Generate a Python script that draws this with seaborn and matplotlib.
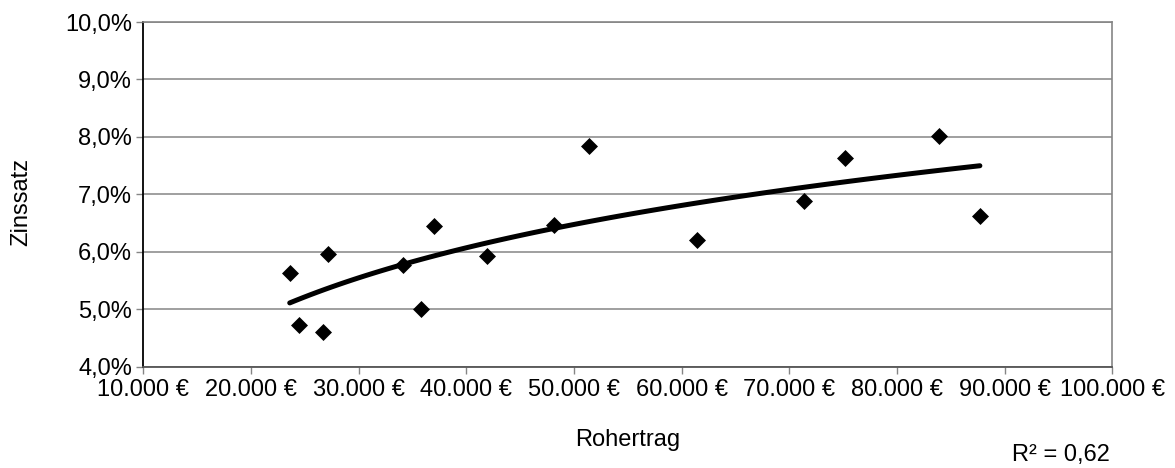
import matplotlib
matplotlib.use("Agg")
import matplotlib.pyplot as plt
import matplotlib.ticker as mticker
import seaborn as sns
import pandas as pd
import numpy as np

# data
rohertrag = [23600, 24500, 26700, 27200, 34100, 35800, 37000, 41900,
             48100, 51400, 61400, 71400, 75200, 83900, 87700]
zinssatz = [5.63, 4.73, 4.60, 5.97, 5.77, 5.01, 6.45, 5.93,
            6.47, 7.84, 6.21, 6.88, 7.63, 8.01, 6.63]
x_label = "Rohertrag"
y_label = "Zinssatz"
r2_text = "R² = 0,62"

df = pd.DataFrame({"Rohertrag": rohertrag, "Zinssatz": zinssatz})

sns.set_theme(style="white")
plt.rcParams['font.family'] = ['Liberation Sans', 'DejaVu Sans']
FS = 17

fig = plt.figure(figsize=(11.75, 4.68), dpi=100)
ax = fig.add_axes([143.3 / 1175, 1 - 366.7 / 468, (1112.3 - 143.3) / 1175, (366.7 - 22) / 468])

sns.regplot(data=df, x="Rohertrag", y="Zinssatz", logx=True, ci=None, scatter=False,
            line_kws=dict(color="black", lw=3.6, solid_capstyle="round"), ax=ax)
sns.scatterplot(data=df, x="Rohertrag", y="Zinssatz", marker="D", s=75, color="black",
                edgecolor="black", linewidth=0, ax=ax, zorder=4)

ax.set_xlim(10000, 100000)
ax.set_ylim(4, 10)
ax.xaxis.set_major_locator(mticker.MultipleLocator(10000))
ax.yaxis.set_major_locator(mticker.MultipleLocator(1))
ax.xaxis.set_major_formatter(mticker.FuncFormatter(lambda v, p: f"{int(round(v)):,}".replace(",", ".") + " €"))
ax.yaxis.set_major_formatter(mticker.FuncFormatter(lambda v, p: f"{v:.1f}".replace(".", ",") + "%"))

ax.grid(axis="y", color="#858585", lw=1.1)
ax.grid(axis="x", visible=False)
ax.set_axisbelow(True)

for side in ("top", "right"):
    ax.spines[side].set_color("#858585")
    ax.spines[side].set_linewidth(1.2)
ax.spines["left"].set_color("black")
ax.spines["left"].set_linewidth(1.3)
ax.spines["bottom"].set_color("#555555")
ax.spines["bottom"].set_linewidth(1.3)

ax.tick_params(axis="both", which="major", direction="out", length=5, width=1,
               color="#858585", labelsize=FS, labelcolor="black",
               bottom=True, left=True)
ax.tick_params(axis="x", pad=4)
ax.tick_params(axis="y", pad=3)

ax.set_xlabel(x_label, fontsize=FS, color="black", va="center")
ax.set_ylabel(y_label, fontsize=FS, color="black", va="center")
ax.xaxis.set_label_coords(0.5, (366.7 - 440) / 344.7)
ax.yaxis.set_label_coords((21 - 143.3) / 969, (366.7 - 202) / 344.7)

fig.text(1061 / 1175, 1 - 455 / 468, r2_text, fontsize=FS, ha="center", va="center", color="black")

fig.savefig("out.png", dpi=100, facecolor="white")
